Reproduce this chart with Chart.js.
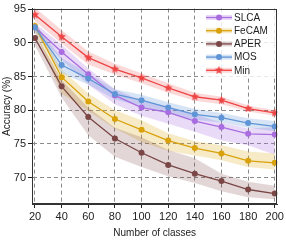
<!DOCTYPE html>
<html><head><meta charset="utf-8">
<script src="https://cdn.jsdelivr.net/npm/chart.js@4.4.1/dist/chart.umd.min.js"></script>
<style>html,body{margin:0;padding:0;background:#fff;}#wrap{width:286px;height:240px;}</style>
</head><body><div id="wrap"><canvas id="c" width="286" height="240"></canvas></div>
<script>
const categories = [20, 40, 60, 80, 100, 120, 140, 160, 180, 200];
const xTicks = [20, 40, 60, 80, 100, 120, 140, 160, 180, 200];
const yTicks = [70, 75, 80, 85, 90, 95];
const seriesNames = ['SLCA', 'FeCAM', 'APER', 'MOS', 'Min'];

const slca  = [92.3, 88.65, 85.35, 82.2, 80.4, 79.7, 78.4, 77.5, 76.5, 76.4];
const fecam = [92.5, 84.9, 81.3, 78.7, 77.1, 75.5, 74.4, 73.6, 72.5, 72.2];
const aper  = [90.7, 83.55, 79.0, 75.8, 73.7, 71.9, 70.6, 69.5, 68.25, 67.65];
const mos   = [92.3, 86.7, 84.7, 82.4, 81.5, 80.4, 79.4, 78.9, 78.1, 77.6];
const minS  = [94.15, 90.9, 87.8, 86.1, 84.8, 83.3, 82.0, 81.5, 80.25, 79.6];

const slcaHi  = [92.9, 89.7, 86.2, 83.1, 81.4, 80.6, 79.4, 78.2, 77.3, 77.5];
const slcaLo  = [91.6, 87.5, 83.8, 80.9, 79.2, 78.0, 76.8, 75.5, 74.8, 73.4];
const fecamHi = [93.2, 86.0, 82.5, 80.0, 78.5, 76.6, 75.4, 74.8, 73.9, 73.6];
const fecamLo = [91.6, 82.5, 79.9, 77.3, 75.3, 74.0, 73.3, 72.6, 71.6, 71.2];
const aperHi  = [91.5, 84.5, 80.4, 77.4, 76.0, 74.1, 72.9, 70.6, 69.4, 68.8];
const aperLo  = [89.6, 81.9, 76.3, 73.1, 71.6, 70.2, 69.2, 68.0, 67.1, 66.8];
const mosHi   = [92.9, 87.7, 85.5, 83.1, 82.3, 81.2, 80.2, 79.6, 78.8, 78.4];
const mosLo   = [91.6, 85.5, 83.8, 81.6, 80.6, 79.5, 78.6, 78.2, 77.4, 76.9];
const minHi   = [95.2, 91.9, 88.7, 86.9, 85.5, 84.0, 82.6, 82.0, 80.7, 80.0];
const minLo   = [93.2, 89.9, 86.8, 85.3, 84.0, 82.6, 81.4, 80.9, 79.8, 79.2];

const colors = {
  SLCA:  {line: '#a96de0', band: 'rgba(169,109,224,0.25)'},
  FeCAM: {line: '#d9a20b', band: 'rgba(226,178,50,0.28)'},
  APER:  {line: '#7a4646', band: 'rgba(122,70,70,0.22)'},
  MOS:   {line: '#5f95d6', band: 'rgba(95,149,214,0.25)'},
  Min:   {line: '#ef4444', band: 'rgba(240,80,80,0.22)'}
};

function makeStar(color, r) {
  const c = document.createElement('canvas');
  const s = Math.ceil(r * 2 + 2);
  c.width = s; c.height = s;
  const g = c.getContext('2d');
  g.fillStyle = color;
  g.beginPath();
  for (let i = 0; i < 10; i++) {
    const rad = i % 2 === 0 ? r : r * 0.45;
    const a = -Math.PI / 2 + i * Math.PI / 5;
    const px = s / 2 + rad * Math.cos(a), py = s / 2 + rad * Math.sin(a);
    if (i === 0) g.moveTo(px, py); else g.lineTo(px, py);
  }
  g.closePath(); g.fill();
  return c;
}
const starImg = makeStar(colors.Min.line, 4.5);

const seriesDefs = [
  {name: 'Min', data: minS, hi: minHi, lo: minLo},
  {name: 'MOS', data: mos, hi: mosHi, lo: mosLo},
  {name: 'APER', data: aper, hi: aperHi, lo: aperLo},
  {name: 'FeCAM', data: fecam, hi: fecamHi, lo: fecamLo},
  {name: 'SLCA', data: slca, hi: slcaHi, lo: slcaLo}
];

const pts = arr => arr.map((v, i) => ({x: categories[i], y: v}));
const datasets = [];
seriesDefs.forEach(s => {
  const col = colors[s.name];
  datasets.push({
    label: s.name, data: pts(s.data), borderColor: col.line, backgroundColor: col.line,
    borderWidth: 1.3, pointRadius: s.name === 'Min' ? 4.5 : 3, pointStyle: s.name === 'Min' ? starImg : 'circle',
    pointBorderWidth: 0, fill: false, tension: 0
  });
});
seriesDefs.forEach(s => {
  const col = colors[s.name];
  const hiIdx = datasets.length;
  datasets.push({
    label: s.name + ' hi', data: pts(s.hi), borderWidth: 0, pointRadius: 0,
    backgroundColor: col.band, fill: {target: hiIdx + 1}, tension: 0
  });
  datasets.push({
    label: s.name + ' lo', data: pts(s.lo), borderWidth: 0, pointRadius: 0,
    backgroundColor: col.band, fill: false, tension: 0
  });
});

const FONT = "'Liberation Sans', Arial, sans-serif";

const framePlugin = {
  id: 'frame',
  afterDraw(chart) {
    const ctx = chart.ctx, a = chart.chartArea;
    ctx.save();
    const lx = 203, ly = 9, lw = 74, lh = 68;
    ctx.fillStyle = 'rgba(255,255,255,0.8)';
    ctx.fillRect(lx, ly, lw, lh);
    seriesNames.forEach((n, i) => {
      const y = 17.5 + i * 13.2;
      const col = colors[n];
      ctx.fillStyle = col.band;
      ctx.fillRect(206, y - 2.5, 26, 5);
      ctx.strokeStyle = col.line; ctx.lineWidth = 1.3;
      ctx.beginPath(); ctx.moveTo(206, y); ctx.lineTo(232, y); ctx.stroke();
      if (n === 'Min') {
        ctx.drawImage(starImg, 219 - starImg.width / 2, y - starImg.height / 2);
      } else {
        ctx.fillStyle = col.line;
        ctx.beginPath(); ctx.arc(219, y, 3, 0, Math.PI * 2); ctx.fill();
      }
      ctx.fillStyle = '#222';
      ctx.font = '10px ' + FONT;
      ctx.textBaseline = 'middle';
      ctx.textAlign = 'left';
      ctx.fillText(n, 234, y + 0.5);
    });
    ctx.strokeStyle = '#333'; ctx.lineWidth = 1;
    ctx.strokeRect(Math.round(a.left) + 0.5, Math.round(a.top) + 0.5, Math.round(a.right - a.left) - 1, Math.round(a.bottom - a.top) - 1);
    ctx.restore();
  }
};

new Chart(document.getElementById('c'), {
  type: 'line',
  data: {datasets},
  options: {
    responsive: false, animation: false, devicePixelRatio: 1,
    layout: {padding: {top: 6, right: 8, left: 0, bottom: 0}},
    plugins: {legend: {display: false}, tooltip: {enabled: false}, title: {display: false}},
    scales: {
      x: {
        type: 'linear', min: 17.75, max: 202,
        afterBuildTicks: s => { s.ticks = xTicks.map(v => ({value: v})); },
        afterFit: s => { s.height = 36; },
        grid: {color: '#8a8a8a', lineWidth: 1, tickLength: 4, tickColor: '#222', drawTicks: true},
        border: {display: true, color: '#333', dash: [4, 3]},
        ticks: {font: {size: 11, family: FONT}, color: '#222', padding: 2, maxRotation: 0, autoSkip: false},
        title: {display: true, text: 'Number of classes', font: {size: 10, family: FONT}, color: '#222', padding: {top: 0, bottom: 1}}
      },
      y: {
        type: 'linear', min: 66.1, max: 95.07,
        afterBuildTicks: s => { s.ticks = yTicks.map(v => ({value: v})); },
        afterFit: s => { s.width = 32; },
        grid: {color: '#8a8a8a', lineWidth: 1, tickLength: 4, tickColor: '#222', drawTicks: true},
        border: {display: true, color: '#333', dash: [4, 3]},
        ticks: {font: {size: 11, family: FONT}, color: '#222', padding: 2, autoSkip: false},
        title: {display: true, text: 'Accuracy (%)', font: {size: 10, family: FONT}, color: '#222', padding: {top: 1, bottom: 1}}
      }
    }
  },
  plugins: [framePlugin]
});
</script></body></html>
